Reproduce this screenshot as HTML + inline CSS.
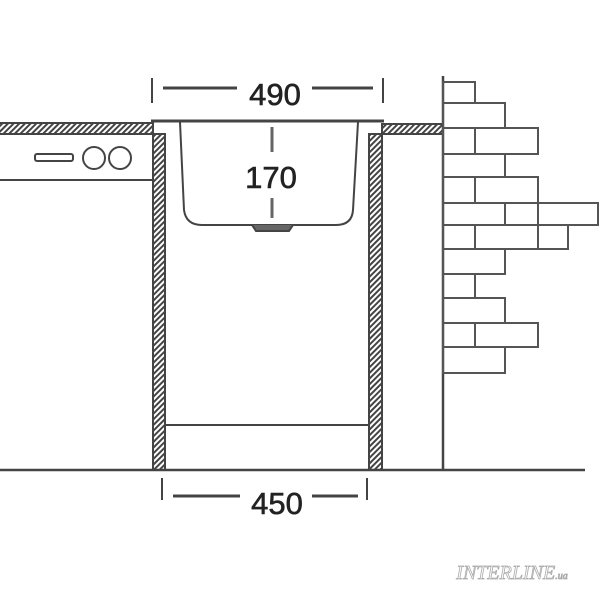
<!DOCTYPE html>
<html><head><meta charset="utf-8"><style>
html,body{margin:0;padding:0;background:#fff;}
</style></head><body>
<svg width="600" height="600" viewBox="0 0 600 600" xmlns="http://www.w3.org/2000/svg">
<defs>
<pattern id="h" width="4" height="4" patternUnits="userSpaceOnUse" patternTransform="rotate(45)">
<rect width="4" height="4" fill="#fff"/><rect width="2" height="4" fill="#444"/>
</pattern>
</defs>
<g stroke="#444" stroke-width="2" fill="none">
<rect x="-2" y="123" width="155" height="11" fill="url(#h)"/>
<rect x="382" y="124" width="61" height="10" fill="url(#h)"/>
<rect x="153" y="134" width="12" height="336" fill="url(#h)"/>
<rect x="369" y="134" width="13" height="336" fill="url(#h)"/>
<line x1="151" y1="121" x2="384" y2="121" stroke-width="3"/>
<path d="M180 122 L184 210 Q186 225 202 225 L336 225 Q352 225 353 210 L358 122"/>
<path d="M252 225 L256 231 L289 231 L293 225" fill="#666"/>
<line x1="0" y1="180" x2="153" y2="180"/>
<rect x="35" y="154" width="38" height="7" rx="2"/>
<circle cx="94" cy="158" r="11"/>
<circle cx="120" cy="158" r="11"/>
<line x1="165" y1="425" x2="369" y2="425"/>
<line x1="0" y1="470" x2="585" y2="470" stroke-width="2.5"/>
<line x1="443" y1="76" x2="443" y2="470" stroke-width="2.5"/>
<g stroke="#555">
<rect x="443" y="82" width="32" height="21"/>
<rect x="443" y="103" width="62" height="25"/>
<rect x="443" y="128" width="95" height="26"/>
<line x1="475" y1="128" x2="475" y2="154"/>
<rect x="443" y="154" width="62" height="23"/>
<rect x="443" y="177" width="95" height="26"/>
<line x1="475" y1="177" x2="475" y2="203"/>
<rect x="443" y="203" width="155" height="22"/>
<line x1="505" y1="203" x2="505" y2="225"/>
<line x1="538" y1="203" x2="538" y2="225"/>
<rect x="443" y="225" width="125" height="24"/>
<line x1="475" y1="225" x2="475" y2="249"/>
<line x1="538" y1="225" x2="538" y2="249"/>
<rect x="443" y="249" width="62" height="25"/>
<rect x="443" y="274" width="32" height="24"/>
<rect x="443" y="298" width="62" height="25"/>
<rect x="443" y="323" width="95" height="24"/>
<line x1="475" y1="323" x2="475" y2="347"/>
<rect x="443" y="347" width="62" height="26"/>
</g>
<line x1="152" y1="78" x2="152" y2="103"/>
<line x1="383" y1="78" x2="383" y2="103"/>
<line x1="163" y1="88" x2="237" y2="88" stroke-width="3"/>
<line x1="312" y1="88" x2="373" y2="88" stroke-width="3"/>
<line x1="272" y1="127" x2="272" y2="152" stroke-width="3" stroke="#666"/>
<line x1="272" y1="198" x2="272" y2="218" stroke-width="3" stroke="#666"/>
<line x1="162" y1="478" x2="162" y2="500"/>
<line x1="367" y1="478" x2="367" y2="500"/>
<line x1="173" y1="496" x2="240" y2="496" stroke-width="3"/>
<line x1="312" y1="496" x2="358" y2="496" stroke-width="3"/>
</g>
<g font-family="Liberation Sans, sans-serif" font-size="31" fill="#222" stroke="#222" stroke-width="0.6" text-anchor="middle">
<text x="275" y="105">490</text>
<text x="271" y="188">170</text>
<text x="277" y="514">450</text>
</g>
<text x="512" y="579" text-anchor="middle" font-family="Liberation Serif, serif" font-style="italic" font-size="20" fill="#fff" stroke="#aaa" stroke-width="0.8">INTERLINE<tspan font-size="10">.ua</tspan></text>
</svg>
</body></html>
